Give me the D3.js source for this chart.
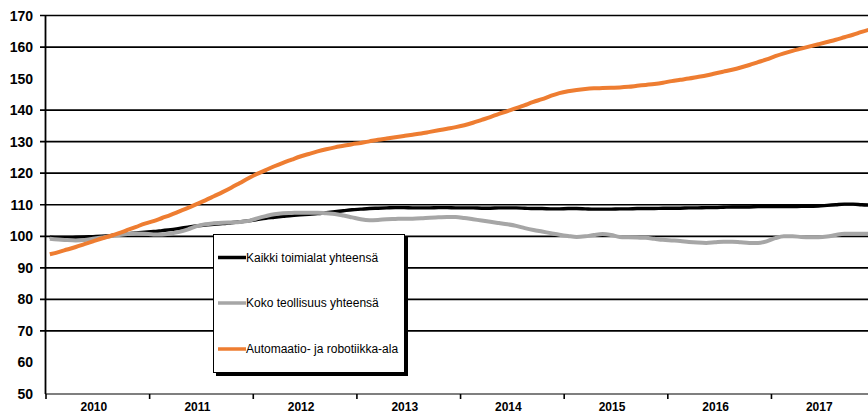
<!DOCTYPE html>
<html><head><meta charset="utf-8">
<script src="https://cdn.jsdelivr.net/npm/d3@7"></script>
<style>html,body{margin:0;padding:0;background:#fff;} svg{display:block}</style>
</head><body><svg id="c" width="868" height="417"></svg>
<script>
// Tick labels
const years = ["2010","2011","2012","2013","2014","2015","2016","2017"];
const yTicks = [50,60,70,80,90,100,110,120,130,140,150,160,170];
// gridlines visible in the reference (150 and 60 rows are not drawn there)
const gridValues = [70,80,90,100,110,120,130,140,160,170];

// Series names
const seriesNames = ["Kaikki toimialat yhteensä","Koko teollisuus yhteensä","Automaatio- ja robotiikka-ala"];

// Monthly index values, Jan 2010 – Dec 2017
const kaikki = [
 99.7,99.6,99.6,99.7,99.8,99.9,100.0,100.2,100.5,100.8,101.1,101.3,
 101.5,101.8,102.1,102.5,102.9,103.3,103.6,103.8,104.0,104.3,104.6,104.9,
 105.3,105.7,106.0,106.3,106.6,106.8,107.0,107.2,107.5,107.8,108.1,108.4,
 108.6,108.8,108.9,109.0,109.1,109.1,109.0,109.0,109.0,109.1,109.1,109.0,
 109.0,109.0,108.9,108.9,109.0,109.0,109.0,108.9,108.8,108.8,108.7,108.7,
 108.8,108.8,108.7,108.6,108.6,108.6,108.7,108.7,108.8,108.8,108.8,108.9,
 108.9,108.9,109.0,109.0,109.1,109.1,109.2,109.3,109.3,109.3,109.4,109.4,
 109.4,109.4,109.4,109.5,109.5,109.6,109.8,110.0,110.2,110.2,110.0,109.9
];
const koko = [
 99.2,99.0,98.8,98.7,98.8,99.2,99.6,100.0,100.4,100.7,100.9,100.8,
 100.6,100.6,100.9,101.4,102.2,103.2,103.8,104.1,104.3,104.4,104.5,104.9,
 105.7,106.4,107.0,107.3,107.4,107.5,107.5,107.5,107.3,107.1,106.6,106.0,
 105.4,105.1,105.2,105.4,105.5,105.6,105.6,105.7,105.9,106.0,106.1,106.1,
 105.8,105.4,105.0,104.6,104.2,103.8,103.3,102.6,102.0,101.5,101.0,100.5,
 100.1,99.8,100.0,100.4,100.7,100.4,99.8,99.7,99.6,99.5,99.2,98.9,
 98.7,98.5,98.2,98.0,97.9,98.1,98.3,98.3,98.1,97.9,97.9,98.4,
 99.4,100.0,100.0,99.8,99.7,99.7,99.9,100.4,100.8,100.8,100.8,100.8
];
const automaatio = [
 94.3,95.0,95.8,96.6,97.5,98.4,99.3,100.1,101.0,102.0,103.0,104.0,
 104.8,105.8,106.8,107.9,109.0,110.2,111.4,112.7,114.0,115.4,116.9,118.4,
 119.8,121.0,122.2,123.3,124.3,125.3,126.1,126.9,127.6,128.2,128.7,129.2,
 129.6,130.1,130.6,131.0,131.4,131.8,132.2,132.6,133.1,133.6,134.1,134.6,
 135.2,136.0,136.9,137.8,138.8,139.7,140.6,141.6,142.6,143.5,144.5,145.4,
 146.0,146.4,146.7,146.9,147.0,147.1,147.2,147.4,147.7,148.0,148.3,148.7,
 149.2,149.6,150.0,150.5,151.0,151.6,152.2,152.8,153.5,154.3,155.2,156.1,
 157.1,158.0,158.8,159.5,160.2,160.9,161.6,162.3,163.1,163.9,164.8,165.6
];

const colors = ["#000000","#a6a6a6","#ee7d31"];
const widths = [3.4,4,4];

const svg = d3.select("#c");
const x = d3.scaleLinear().domain([0, years.length*12]).range([45.5, 874.6]);
const y = d3.scaleLinear().domain([50,170]).range([394, 15.5]);

// gridlines + y tick marks
svg.append("g").selectAll("line").data(gridValues).join("line")
  .attr("x1", 40).attr("x2", 868)
  .attr("y1", d=>y(d)).attr("y2", d=>y(d))
  .attr("stroke","#000").attr("stroke-width",1.7);

// y labels
svg.append("g").selectAll("text").data(yTicks).join("text")
  .attr("x", 33).attr("y", d=>y(d)).attr("dy","0.36em")
  .attr("text-anchor","end")
  .style("font-family","'Liberation Sans Narrow','Liberation Sans',Arial,sans-serif")
  .style("font-weight","bold").style("font-size","14px")
  .text(d=>d);

// x axis
const xAxis = d3.axisBottom(x)
  .tickValues(d3.range(0, years.length*12+1, 12))
  .tickSize(5).tickFormat("");
const gx = svg.append("g").attr("transform","translate(0,394)").call(xAxis);
gx.select(".domain").attr("stroke","#000").attr("stroke-width",1.2).attr("d","M45.5,0H868");
gx.selectAll(".tick line").attr("stroke","#000").attr("stroke-width",1.6);

svg.append("g").selectAll("text").data(years).join("text")
  .attr("x",(d,i)=>x(i*12+6)-3.5).attr("y",411)
  .attr("text-anchor","middle")
  .style("font-family","'Liberation Sans Narrow','Liberation Sans',Arial,sans-serif")
  .style("font-weight","bold").style("font-size","12px")
  .text(d=>d);

// y axis line
svg.append("line").attr("x1",45.5).attr("x2",45.5).attr("y1",y(170)).attr("y2",y(50))
  .attr("stroke","#000").attr("stroke-width",1.8);

// series
const series = [kaikki, koko, automaatio];
const line = d3.line().x((d,i)=>x(i+0.5)).y(d=>y(d)).curve(d3.curveMonotoneX);
svg.append("g").selectAll("path").data(series).join("path")
  .attr("d", line).attr("fill","none")
  .attr("stroke",(d,i)=>colors[i]).attr("stroke-width",(d,i)=>widths[i])
  .attr("stroke-linejoin","round");

// legend
const lg = svg.append("g");
lg.append("rect").attr("x",216).attr("y",237).attr("width",192).attr("height",139).attr("fill","#000");
lg.append("rect").attr("x",213.5).attr("y",234.5).attr("width",191).attr("height",138)
  .attr("fill","#fff").attr("stroke","#000").attr("stroke-width",1);
const itemY = [257.5, 303, 349];
seriesNames.forEach((n,i)=>{
  lg.append("line").attr("x1",218).attr("x2",246).attr("y1",itemY[i]).attr("y2",itemY[i])
    .attr("stroke",colors[i]).attr("stroke-width",3.5);
  lg.append("text").attr("x",246).attr("y",itemY[i]).attr("dy","0.35em")
    .style("font-family","'Liberation Sans',Arial,sans-serif").style("font-size","12px")
    .attr("fill","#000").text(n);
});
</script></body></html>
